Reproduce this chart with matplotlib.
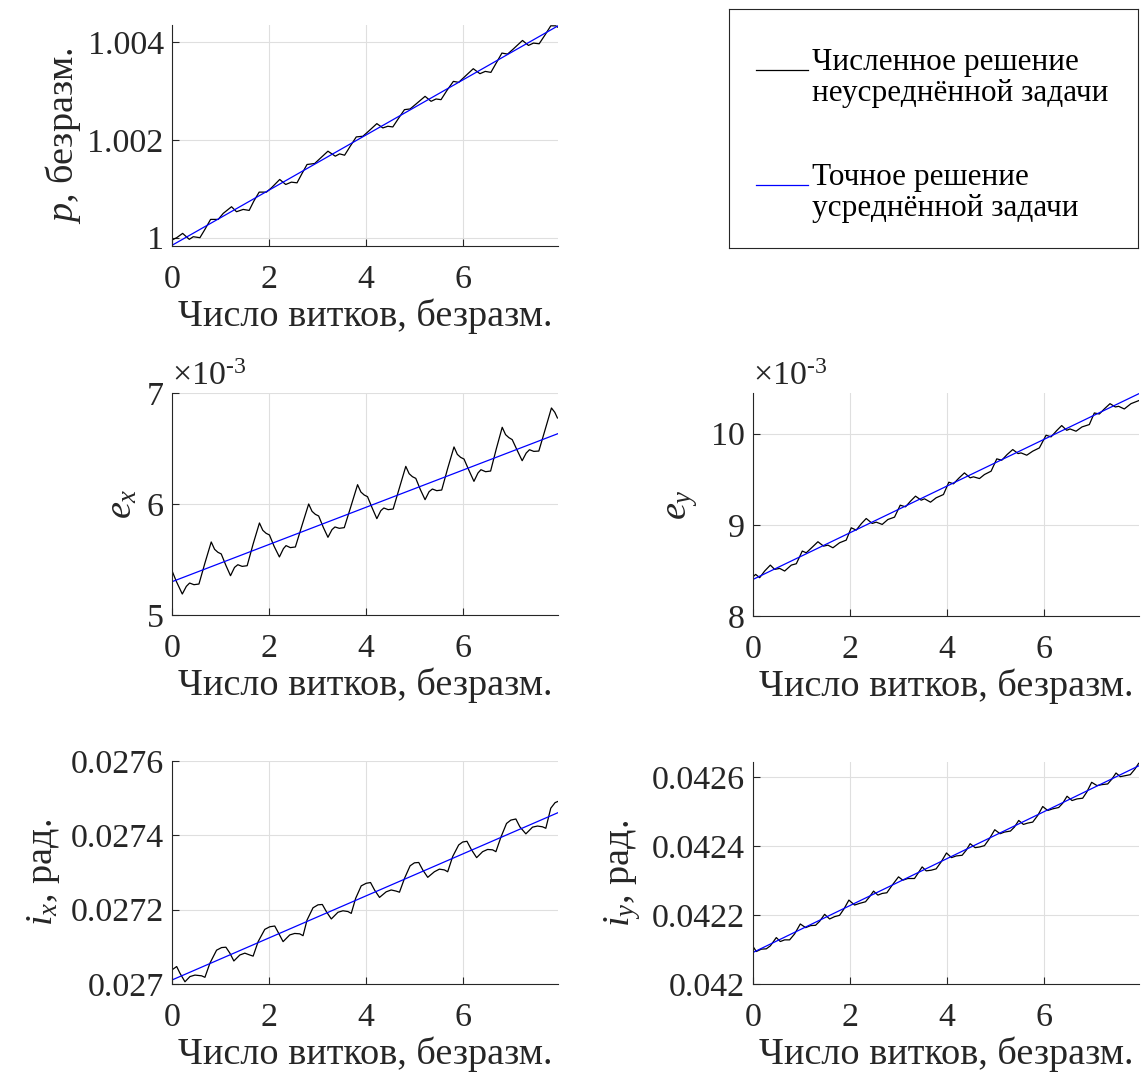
import numpy as np
import matplotlib.pyplot as plt

plt.rcParams['font.family'] = ['Liberation Serif', 'DejaVu Serif']
plt.rcParams['mathtext.fontset'] = 'custom'
plt.rcParams['mathtext.rm'] = 'Liberation Serif'
plt.rcParams['mathtext.it'] = 'Liberation Serif:italic'
plt.rcParams['font.size'] = 24

# --- data (x = число витков) ---
avg_t = [0, 7.95]

p_t = [0, 0.096, 0.219, 0.356, 0.438, 0.575, 0.678, 0.795, 0.952, 1.055, 1.226, 1.329, 1.466, 1.589,
       1.685, 1.795, 1.945, 2.048, 2.219, 2.342, 2.459, 2.575, 2.678, 2.781, 2.938, 3.041, 3.212, 3.363,
       3.452, 3.555, 3.671, 3.795, 3.932, 4.048, 4.219, 4.342, 4.445, 4.548, 4.671, 4.788, 4.904, 5.027,
       5.212, 5.336, 5.438, 5.541, 5.664, 5.795, 5.904, 6.021, 6.205, 6.342, 6.452, 6.568, 6.685, 6.795,
       6.911, 7.027, 7.219, 7.342, 7.445, 7.562, 7.685, 7.801, 7.904, 7.945]
p_num = [0.999952, 1.000000, 1.000088, 0.999966, 1.000020, 1.000000, 1.000170, 1.000374, 1.000374,
         1.000497, 1.000633, 1.000531, 1.000578, 1.000558, 1.000748, 1.000932, 1.000932, 1.001020,
         1.001191, 1.001088, 1.001136, 1.001122, 1.001313, 1.001497, 1.001517, 1.001612, 1.001769,
         1.001667, 1.001714, 1.001687, 1.001871, 1.002061, 1.002075, 1.002177, 1.002333, 1.002245,
         1.002279, 1.002265, 1.002449, 1.002619, 1.002633, 1.002735, 1.002891, 1.002789, 1.002837,
         1.002823, 1.003014, 1.003197, 1.003177, 1.003286, 1.003456, 1.003354, 1.003401, 1.003381,
         1.003585, 1.003776, 1.003755, 1.003857, 1.004034, 1.003932, 1.003980, 1.003966, 1.004150,
         1.004333, 1.004333, 1.004306]
p_avg = [0.999844, 1.004333]

# e_x in units of 1e-3
ex_t = [0, 0.089, 0.212, 0.295, 0.363, 0.452, 0.555, 0.678, 0.808,
        0.877, 0.945, 1.014, 1.110, 1.205, 1.288, 1.356, 1.445, 1.548, 1.671, 1.801,
        1.870, 1.938, 2.007, 2.103, 2.212, 2.295, 2.349, 2.438, 2.541, 2.678, 2.815,
        2.884, 2.952, 3.021, 3.116, 3.212, 3.295, 3.356, 3.445, 3.548, 3.685, 3.822,
        3.890, 3.959, 4.027, 4.123, 4.219, 4.301, 4.363, 4.452, 4.555, 4.685, 4.815,
        4.884, 4.952, 5.021, 5.116, 5.212, 5.295, 5.363, 5.452, 5.555, 5.678, 5.808,
        5.877, 5.945, 6.014, 6.116, 6.219, 6.301, 6.363, 6.459, 6.562, 6.678, 6.801,
        6.870, 6.938, 7.007, 7.110, 7.212, 7.295, 7.363, 7.452, 7.555, 7.685, 7.815,
        7.884, 7.938]
ex_num = [5.399, 5.303, 5.189, 5.258, 5.288, 5.273, 5.279, 5.468, 5.658,
          5.592, 5.565, 5.550, 5.447, 5.354, 5.429, 5.453, 5.438, 5.444, 5.640, 5.829,
          5.763, 5.736, 5.721, 5.619, 5.523, 5.598, 5.625, 5.607, 5.613, 5.808, 6.000,
          5.934, 5.907, 5.892, 5.790, 5.700, 5.769, 5.793, 5.781, 5.787, 5.979, 6.174,
          6.108, 6.081, 6.066, 5.964, 5.868, 5.940, 5.964, 5.949, 5.955, 6.147, 6.339,
          6.273, 6.246, 6.231, 6.129, 6.039, 6.111, 6.135, 6.120, 6.126, 6.321, 6.514,
          6.447, 6.420, 6.405, 6.303, 6.204, 6.279, 6.309, 6.291, 6.297, 6.495, 6.691,
          6.625, 6.598, 6.580, 6.483, 6.390, 6.459, 6.489, 6.474, 6.477, 6.670, 6.865,
          6.826, 6.775]
ex_avg = [5.300, 6.634]

# e_y in units of 1e-3
ey_t = [0, 0.055, 0.137, 0.240, 0.357, 0.446, 0.549, 0.652, 0.789, 0.892,
        1.015, 1.097, 1.221, 1.337, 1.454, 1.543, 1.646, 1.783, 1.920,
        2.023, 2.126, 2.229, 2.332, 2.455, 2.538, 2.661, 2.778, 2.915,
        3.032, 3.141, 3.244, 3.347, 3.464, 3.532, 3.656, 3.772, 3.923,
        4.033, 4.129, 4.239, 4.355, 4.472, 4.540, 4.664, 4.767, 4.904,
        5.021, 5.123, 5.233, 5.350, 5.460, 5.521, 5.638, 5.761, 5.898,
        6.036, 6.139, 6.248, 6.358, 6.461, 6.529, 6.653, 6.776, 6.927,
        7.030, 7.133, 7.243, 7.353, 7.462, 7.531, 7.647, 7.785, 7.942]
ey_num = [8.431, 8.456, 8.420, 8.493, 8.558, 8.511, 8.522, 8.493, 8.558, 8.573,
          8.712, 8.693, 8.755, 8.814, 8.766, 8.777, 8.748, 8.803, 8.832,
          8.967, 8.942, 9.011, 9.069, 9.015, 9.029, 9.004, 9.058, 9.084,
          9.215, 9.197, 9.259, 9.314, 9.270, 9.285, 9.248, 9.296, 9.332,
          9.467, 9.449, 9.511, 9.569, 9.515, 9.526, 9.507, 9.551, 9.588,
          9.723, 9.708, 9.770, 9.825, 9.781, 9.788, 9.763, 9.807, 9.843,
          9.982, 9.964, 10.029, 10.088, 10.036, 10.051, 10.026, 10.073, 10.099,
          10.226, 10.215, 10.274, 10.328, 10.292, 10.299, 10.270, 10.328, 10.361]
ey_avg = [8.401, 10.438]

ix_t = [0, 0.096, 0.164, 0.267, 0.370, 0.473, 0.610, 0.678,
        0.781, 0.918, 1.021, 1.110, 1.192, 1.274, 1.397, 1.500, 1.603, 1.671,
        1.774, 1.911, 2.014, 2.116, 2.199, 2.288, 2.425, 2.527, 2.630, 2.699,
        2.781, 2.904, 3.007, 3.096, 3.178, 3.281, 3.418, 3.521, 3.623, 3.692,
        3.781, 3.897, 4.000, 4.089, 4.171, 4.274, 4.411, 4.514, 4.616, 4.685,
        4.788, 4.904, 4.993, 5.082, 5.164, 5.267, 5.404, 5.507, 5.610, 5.678,
        5.781, 5.904, 5.986, 6.075, 6.164, 6.274, 6.397, 6.500, 6.603, 6.671,
        6.774, 6.890, 6.979, 7.082, 7.164, 7.288, 7.425, 7.527, 7.630, 7.699,
        7.801, 7.890, 7.945]
ix_num = [0.027038, 0.027047, 0.027029, 0.027006, 0.027020, 0.027024, 0.027022, 0.027018,
          0.027056, 0.027091, 0.027098, 0.027099, 0.027083, 0.027062, 0.027078, 0.027083, 0.027078, 0.027075,
          0.027114, 0.027147, 0.027154, 0.027156, 0.027136, 0.027114, 0.027132, 0.027136, 0.027135, 0.027130,
          0.027172, 0.027205, 0.027213, 0.027214, 0.027195, 0.027175, 0.027193, 0.027197, 0.027195, 0.027190,
          0.027230, 0.027264, 0.027271, 0.027273, 0.027253, 0.027233, 0.027248, 0.027253, 0.027250, 0.027247,
          0.027284, 0.027318, 0.027326, 0.027327, 0.027307, 0.027287, 0.027302, 0.027309, 0.027307, 0.027302,
          0.027343, 0.027374, 0.027382, 0.027384, 0.027362, 0.027340, 0.027356, 0.027362, 0.027361, 0.027356,
          0.027395, 0.027432, 0.027441, 0.027444, 0.027423, 0.027404, 0.027422, 0.027425, 0.027423, 0.027419,
          0.027473, 0.027488, 0.027491]
ix_avg = [0.0270108, 0.027461]

iy_t = [0, 0.069, 0.171, 0.274, 0.357, 0.480, 0.562, 0.652, 0.754, 0.857,
        0.974, 1.084, 1.187, 1.289, 1.372, 1.475, 1.578, 1.680, 1.783, 1.872,
        1.975, 2.092, 2.195, 2.318, 2.401, 2.483, 2.572, 2.661, 2.757, 2.867,
        2.997, 3.086, 3.189, 3.326, 3.395, 3.484, 3.567, 3.669, 3.772, 3.875,
        3.985, 4.088, 4.184, 4.307, 4.390, 4.472, 4.575, 4.664, 4.767, 4.870,
        4.979, 5.089, 5.178, 5.302, 5.384, 5.473, 5.569, 5.658, 5.761, 5.864,
        5.967, 6.070, 6.173, 6.296, 6.379, 6.468, 6.571, 6.674, 6.790, 6.872,
        6.975, 7.085, 7.188, 7.305, 7.394, 7.476, 7.565, 7.668, 7.771, 7.867,
        7.942]
iy_num = [0.0421089, 0.0420944, 0.0421012, 0.0421022, 0.0421108, 0.0421349, 0.0421234, 0.0421282, 0.0421282, 0.0421455,
          0.0421744, 0.0421638, 0.0421696, 0.0421706, 0.0421822, 0.0422024, 0.0421889, 0.0421957, 0.0421995, 0.0422178,
          0.0422438, 0.0422294, 0.0422342, 0.0422390, 0.0422535, 0.0422699, 0.0422583, 0.0422631, 0.0422651, 0.0422872,
          0.0423113, 0.0423017, 0.0423065, 0.0423065, 0.0423210, 0.0423402, 0.0423287, 0.0423306, 0.0423345, 0.0423547,
          0.0423807, 0.0423672, 0.0423720, 0.0423740, 0.0423884, 0.0424077, 0.0423961, 0.0423981, 0.0424019, 0.0424222,
          0.0424482, 0.0424366, 0.0424414, 0.0424443, 0.0424559, 0.0424752, 0.0424636, 0.0424675, 0.0424704, 0.0424896,
          0.0425157, 0.0425041, 0.0425089, 0.0425128, 0.0425253, 0.0425455, 0.0425330, 0.0425378, 0.0425398, 0.0425571,
          0.0425860, 0.0425764, 0.0425793, 0.0425812, 0.0425957, 0.0426130, 0.0426024, 0.0426053, 0.0426082, 0.0426246,
          0.0426410]
iy_avg = [0.0420916, 0.0426342]

x_ticks = [0, 2, 4, 6]
p_ticks = [1, 1.002, 1.004]
p_ticklabels = ['1', '1.002', '1.004']
ex_ticks = [5, 6, 7]
ey_ticks = [8, 9, 10]
ix_ticks = [0.027, 0.0272, 0.0274, 0.0276]
ix_ticklabels = ['0.027', '0.0272', '0.0274', '0.0276']
iy_ticks = [0.042, 0.0422, 0.0424, 0.0426]
iy_ticklabels = ['0.042', '0.0422', '0.0424', '0.0426']

xlabel = 'Число витков, безразм.'
legend_lines = [['Численное решение', 'неусреднённой задачи'],
                ['Точное решение', 'усреднённой задачи']]
legend_colors = ['black', '#0000ff']

W, H = 1145, 1079
fig = plt.figure(figsize=(W / 100, H / 100), dpi=100)

axis_col = '#262626'
tick_fs = 24.5
label_fs = 27.5
legend_fs = 22.5


def make_axes(left, top, right, bottom):
    ax = fig.add_axes([left / W, 1 - bottom / H, (right - left) / W, (bottom - top) / H])
    for s in ['top', 'right']:
        ax.spines[s].set_visible(False)
    for s in ['left', 'bottom']:
        ax.spines[s].set_color(axis_col)
        ax.spines[s].set_linewidth(0.8)
    ax.tick_params(direction='in', length=5, width=0.8, colors=axis_col,
                   labelcolor=axis_col, labelsize=tick_fs)
    ax.tick_params(axis='x', pad=13)
    ax.tick_params(axis='y', pad=6)
    ax.grid(True, color='#dfdfdf', linewidth=0.8)
    ax.set_axisbelow(True)
    ax.set_xlim(0, 7.95)
    ax.set_xticks(x_ticks)
    ax.set_xlabel(xlabel, fontsize=label_fs, color=axis_col, labelpad=3)
    return ax


def draw(ax, t, num, avg):
    ax.plot(t, num, color='black', lw=0.9, solid_joinstyle='round')
    ax.plot(avg_t, avg, color='#0000ff', lw=0.9)


def offset_text(ax):
    ax.text(0.0, 1.035, '×10$^{\u2010 3}$', transform=ax.transAxes, fontsize=tick_fs,
            color=axis_col, va='baseline', ha='left')


ax_p = make_axes(172, 25, 558, 246)
draw(ax_p, p_t, p_num, p_avg)
ax_p.set_ylim(0.99983, 1.00435)
ax_p.set_yticks(p_ticks)
ax_p.set_yticklabels(p_ticklabels)
ax_p.set_ylabel('$p$, безразм.', fontsize=label_fs, color=axis_col, labelpad=3)

ax_ex = make_axes(172, 393, 558, 615)
draw(ax_ex, ex_t, ex_num, ex_avg)
ax_ex.set_ylim(5, 7)
ax_ex.set_yticks(ex_ticks)
ax_ex.set_ylabel('$e_x$', fontsize=label_fs, color=axis_col, labelpad=5)
offset_text(ax_ex)

ax_ey = make_axes(753, 393, 1139, 616)
draw(ax_ey, ey_t, ey_num, ey_avg)
ax_ey.set_ylim(8, 10.445)
ax_ey.set_yticks(ey_ticks)
ax_ey.set_ylabel('$e_y$', fontsize=label_fs, color=axis_col, labelpad=8)
offset_text(ax_ey)

ax_ix = make_axes(172, 761, 558, 984)
draw(ax_ix, ix_t, ix_num, ix_avg)
ax_ix.set_ylim(0.027, 0.0276)
ax_ix.set_yticks(ix_ticks)
ax_ix.set_yticklabels(ix_ticklabels)
ax_ix.set_ylabel('$i_x$, рад.', fontsize=label_fs, color=axis_col, labelpad=6)

ax_iy = make_axes(753, 762, 1139, 984)
draw(ax_iy, iy_t, iy_num, iy_avg)
ax_iy.set_ylim(0.042, 0.042645)
ax_iy.set_yticks(iy_ticks)
ax_iy.set_yticklabels(iy_ticklabels)
ax_iy.set_ylabel('$i_y$, рад.', fontsize=label_fs, color=axis_col, labelpad=6)

# legend box drawn by hand (pixel layout of the MATLAB legend)
box_l, box_t, box_r, box_b = 729, 9, 1138, 248
lg = fig.add_axes([box_l / W, 1 - box_b / H, (box_r - box_l) / W, (box_b - box_t) / H])
lg.set_xlim(box_l, box_r)
lg.set_ylim(box_b, box_t)
lg.set_xticks([])
lg.set_yticks([])
for s in lg.spines.values():
    s.set_color(axis_col)
    s.set_linewidth(0.8)
entry_y = [70, 185]
for lines, col, y0 in zip(legend_lines, legend_colors, entry_y):
    lg.plot([756, 808], [y0, y0], color=col, lw=0.9)
    for k, line in enumerate(lines):
        lg.text(812, y0 + 31 * k, line, fontsize=legend_fs, color='black',
                va='baseline', ha='left')

fig.savefig('out.png', dpi=100)
